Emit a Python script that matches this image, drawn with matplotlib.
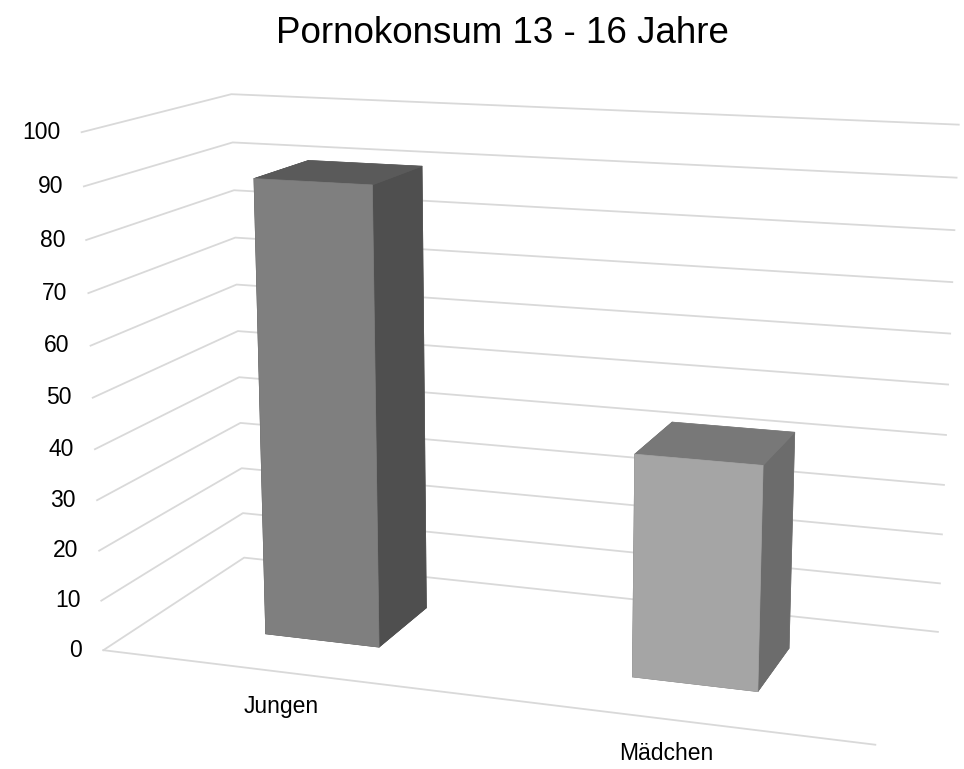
import matplotlib
matplotlib.use('Agg')
import matplotlib.pyplot as plt
import numpy as np
from mpl_toolkits.mplot3d import proj3d

categories = ['Jungen', 'Mädchen']
values = [90, 43]
zticks = [0, 10, 20, 30, 40, 50, 60, 70, 80, 90, 100]
title = 'Pornokonsum 13 - 16 Jahre'
front_colors = ['#7f7f7f', '#a5a5a5']
side_colors = ['#4f4f4f', '#6c6c6c']
top_colors = ['#5a5a5a', '#787878']
grid_color = '#d9d9d9'

plt.rcParams['font.family'] = ['Liberation Sans', 'DejaVu Sans']

fig = plt.figure(figsize=(9.64, 7.69), dpi=100)
ax = fig.add_axes([-0.016, -0.022, 1.1, 1.0], projection='3d',
                  computed_zorder=False)
ax.set_proj_type('persp', focal_length=0.595)
ax.view_init(elev=13.5, azim=-71)
ax.set_box_aspect((1.5, 0.63, 1.0), zoom=1.27)

x0, x1 = 0.5, 2.5
y0, y1 = 0.0, 1.0
ax.set_xlim(x0, x1)
ax.set_ylim(y0, y1)
ax.set_zlim(0, 100)
ax.set_axis_off()

# gridlines on left wall and back wall
for v in zticks:
    ax.plot([x0, x0, x1], [y0, y1, y1], [v, v, v], color=grid_color,
            lw=1.3, zorder=1, clip_on=False)
# floor front edge (category axis)
ax.plot([x0, x1], [y0, y0], [0, 0], color=grid_color, lw=1.3, zorder=1,
        clip_on=False)

x = np.arange(len(categories)) + 1.0
bw, bd = 0.32, 0.4
colors = []
for i in range(len(categories)):
    # order: -z, +z, -y, +y, -x, +x
    colors += [top_colors[i], top_colors[i], front_colors[i], front_colors[i],
               side_colors[i], side_colors[i]]
bars = ax.bar3d(x - bw / 2, np.full(len(x), 0.5 - bd / 2), np.zeros(len(x)),
                bw, bd, values, color=colors, edgecolor=colors, linewidth=0.5,
                shade=False, zorder=2)
bars.set_clip_on(False)

fig.canvas.draw()


def to_fig(xx, yy, zz):
    xs, ys, _ = proj3d.proj_transform(xx, yy, zz, ax.M)
    disp = ax.transData.transform((xs, ys))
    return fig.transFigure.inverted().transform(disp)


W, H = fig.bbox.width, fig.bbox.height
for v in zticks:
    fx, fy = to_fig(x0, y0, v)
    fig.text(fx - 21 / W, fy, str(v), ha='right', va='center', fontsize=16.5)
for xi, c in zip(x, categories):
    fx, fy = to_fig(xi, y0, 0)
    fig.text(fx, fy - 34 / H, c, ha='center', va='center', fontsize=16.5)

fig.text(0.521, 0.944, title, ha='center', va='baseline', fontsize=26.5)
fig.savefig('out.png', dpi=100)
